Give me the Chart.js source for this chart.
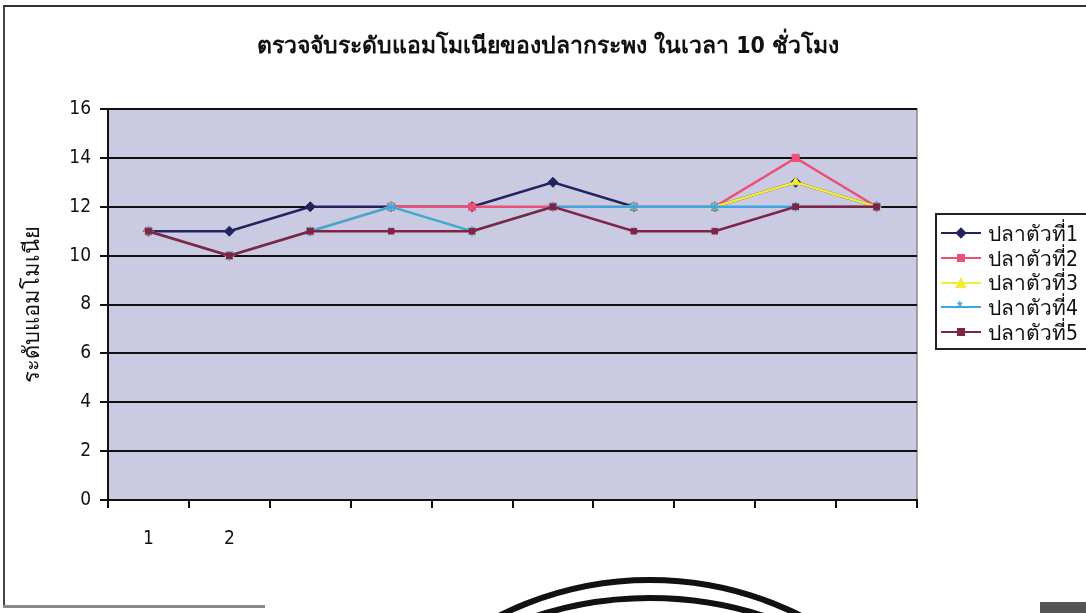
<!DOCTYPE html>
<html>
<head>
<meta charset="utf-8">
<script src="https://cdn.jsdelivr.net/npm/chart.js@4.4.1/dist/chart.umd.min.js"></script>
<style>
  html, body { margin: 0; padding: 0; background: #fff; }
  #wrap { position: relative; width: 1086px; height: 613px; overflow: hidden; }
  #frame { position: absolute; left: 3px; top: 5px; width: 1100px; height: 600px;
    border-top: 2px solid #333; border-left: 2px solid #444; }
  #title { position: absolute; left: 0; width: 1096px; top: 27px; text-align: center;
    font: bold 23px "DejaVu Sans Condensed", "Noto Sans", sans-serif; color: #111; }
  #legend { position: absolute; left: 935px; top: 213px; width: 200px; height: 137px;
    border: 2px solid #222; box-sizing: border-box; padding-top: 6px; }
  .row { height: 24.7px; display: flex; align-items: center; font: 21px "DejaVu Sans Condensed", "Noto Sans", sans-serif; color: #111; }
  .sw { position: relative; width: 40px; height: 20px; margin: 0 7px 0 4px; }
  .sw .ln { position: absolute; left: 0; right: 0; top: 9px; height: 2px; }
  .sw .mk { position: absolute; left: 15px; top: 5px; width: 10px; height: 10px; }
  #bottomline { position: absolute; left: 3px; top: 605px; width: 262px; height: 3px; background: #888; }
  #corner { position: absolute; left: 1040px; top: 602px; width: 50px; height: 12px; background: #555; }
  .ring { position: absolute; border: 6px solid #111; border-radius: 50%; box-sizing: border-box; }
</style>
</head>
<body>
<div id="wrap">
  <canvas id="myChart" width="1086" height="613"></canvas>
  <div id="frame"></div>
  <div id="title">ตรวจจับระดับแอมโมเนียของปลากระพง ในเวลา 10 ชั่วโมง</div>
  <div id="legend"></div>
  <div id="bottomline"></div>
  <div id="corner"></div>
  <div class="ring" style="left:311px; top:577px; width:678px; height:678px;"></div>
  <div class="ring" style="left:278px; top:595px; width:744px; height:744px;"></div>
</div>
<script>
const hours = ["1", "2", "", "", "", "", "", "", "", ""];
const fish1 = [11, 11, 12, 12, 12, 13, 12, 12, 13, 12];
const fish2 = [11, 10, 11, 12, 12, 12, 12, 12, 14, 12];
const fish3 = [11, 10, 11, 12, 11, 12, 12, 12, 13, 12];
const fish4 = [11, 10, 11, 12, 11, 12, 12, 12, 12, 12];
const fish5 = [11, 10, 11, 11, 11, 12, 11, 11, 12, 12];
const seriesNames = ["ปลาตัวที่1", "ปลาตัวที่2", "ปลาตัวที่3", "ปลาตัวที่4", "ปลาตัวที่5"];
const yTicks = [0, 2, 4, 6, 8, 10, 12, 14, 16];

const colors = ["#23235e", "#ec4f78", "#f2ec3a", "#3fa6e4", "#7d2447"];
const markers = ["rectRot", "rect", "triangle", "star", "rect"];
const allData = [fish1, fish2, fish3, fish4, fish5];

const plotBg = {
  id: "plotBg",
  beforeDraw(chart) {
    const { ctx, chartArea: a } = chart;
    ctx.save();
    ctx.fillStyle = "#cacae2";
    ctx.fillRect(a.left, a.top, a.right - a.left, a.bottom - a.top);
    ctx.strokeStyle = "#8a8a8a";
    ctx.lineWidth = 1.5;
    ctx.beginPath();
    ctx.moveTo(a.left, a.top);
    ctx.lineTo(a.right, a.top);
    ctx.lineTo(a.right, a.bottom);
    ctx.stroke();
    ctx.restore();
  },
};

const datasets = allData.map((d, i) => ({
  label: seriesNames[i],
  data: d,
  borderColor: colors[i],
  backgroundColor: colors[i],
  borderWidth: 2.5,
  pointStyle: markers[i],
  pointRadius: i === 4 ? 4 : 5,
  pointBorderWidth: i === 3 ? 1.5 : 1,
  tension: 0,
  order: 5 - i,
}));

const numFont = { family: "'DejaVu Sans Condensed', 'Liberation Sans', sans-serif", size: 19 };

new Chart(document.getElementById("myChart"), {
  type: "line",
  data: { labels: hours, datasets: datasets },
  options: {
    responsive: false,
    animation: false,
    layout: { padding: { top: 109, right: 169, left: 0, bottom: 0 } },
    plugins: { legend: { display: false }, title: { display: false }, tooltip: { enabled: false } },
    scales: {
      x: {
        offset: true,
        grid: { offset: true, drawOnChartArea: false, color: "#111", lineWidth: 2, tickLength: 8 },
        border: { color: "#111", width: 2 },
        ticks: { color: "#111", font: numFont, padding: 20, maxRotation: 0, autoSkip: false },
        afterFit(scale) { scale.height = 113; },
      },
      y: {
        min: 0,
        max: 16,
        afterBuildTicks(scale) { scale.ticks = yTicks.map((v) => ({ value: v })); },
        grid: { color: "#111", lineWidth: 2, tickLength: 8 },
        border: { color: "#111", width: 2 },
        ticks: { color: "#111", font: numFont, padding: 9 },
        title: {
          display: true,
          text: "ระดับแอมโมเนีย",
          color: "#111",
          font: { family: "'DejaVu Sans Condensed', 'Noto Sans', sans-serif", size: 22 },
          padding: { top: 20, bottom: 0 },
        },
        afterFit(scale) { scale.width = 108; },
      },
    },
  },
  plugins: [plotBg],
});

// legend, same styling as the datasets
const legend = document.getElementById("legend");
seriesNames.forEach((name, i) => {
  const row = document.createElement("div");
  row.className = "row";
  let mk = "";
  if (markers[i] === "rectRot") mk = `<div class="mk" style="background:${colors[i]};transform:rotate(45deg) scale(0.8)"></div>`;
  else if (markers[i] === "rect") mk = `<div class="mk" style="background:${colors[i]};transform:scale(0.8)"></div>`;
  else if (markers[i] === "triangle") mk = `<div class="mk" style="width:0;height:0;left:14px;top:4px;border-left:6px solid transparent;border-right:6px solid transparent;border-bottom:11px solid ${colors[i]}"></div>`;
  else mk = `<div class="mk" style="color:${colors[i]};font:bold 14px sans-serif;top:1px;left:16px">*</div>`;
  row.innerHTML = `<div class="sw"><div class="ln" style="background:${colors[i]}"></div>${mk}</div><span>${name}</span>`;
  legend.appendChild(row);
});
</script>
</body>
</html>
